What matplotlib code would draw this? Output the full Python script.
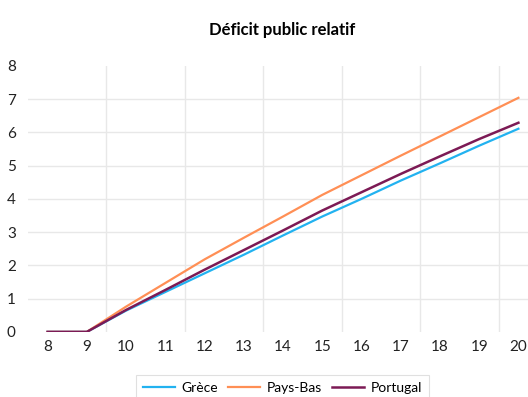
import matplotlib.pyplot as plt

plt.rcParams['font.family'] = ['Lato', 'DejaVu Sans']

annees = [8, 9, 10, 11, 12, 13, 14, 15, 16, 17, 18, 19, 20]
grece = [0, 0, 0.64, 1.2, 1.76, 2.32, 2.9, 3.47, 4.0, 4.55, 5.07, 5.6, 6.11]
pays_bas = [0, 0, 0.76, 1.47, 2.18, 2.83, 3.47, 4.12, 4.71, 5.3, 5.88, 6.46, 7.04]
portugal = [0, 0, 0.66, 1.26, 1.87, 2.46, 3.05, 3.65, 4.2, 4.75, 5.28, 5.8, 6.29]

fig = plt.figure(figsize=(5.28, 3.97), dpi=100)
ax = fig.add_axes([0.053, 0.164, 0.966, 0.670])

ax.plot(annees, grece, color='#22b2f0', lw=1.6, label='Grèce')
ax.plot(annees, pays_bas, color='#ff8f55', lw=1.6, label='Pays-Bas')
ax.plot(annees, portugal, color='#7c1a55', lw=1.8, label='Portugal')

ax.set_xlim(7.5, 20.5)
ax.set_ylim(0, 8)
ax.set_xticks(annees)
ax.set_yticks(range(0, 9))

# grille
for y in range(1, 8):
    ax.axhline(y, color='#e8e8e8', lw=1, zorder=0)
for x in [9.5, 11.5, 13.5, 15.5, 17.5, 19.5]:
    ax.axvline(x, color='#e8e8e8', lw=1, zorder=0)

for s in ax.spines.values():
    s.set_visible(False)
ax.tick_params(length=0, labelsize=11, labelcolor='#222222')
ax.tick_params(axis='x', pad=6)
ax.tick_params(axis='y', pad=12)
for lab in ax.get_yticklabels():
    lab.set_horizontalalignment('center')

fig.suptitle('Déficit public relatif', x=0.535, y=0.945, fontsize=12, fontweight='bold')

leg = fig.legend(loc='center', bbox_to_anchor=(0.535, 0.022), ncol=3, fontsize=10,
                 frameon=True, fancybox=False, handlelength=2.3, handletextpad=0.45,
                 columnspacing=0.75, borderpad=0.55)
leg.get_frame().set_edgecolor('#d9d9d9')
leg.get_frame().set_linewidth(0.8)

fig.savefig('out.png', dpi=100)
